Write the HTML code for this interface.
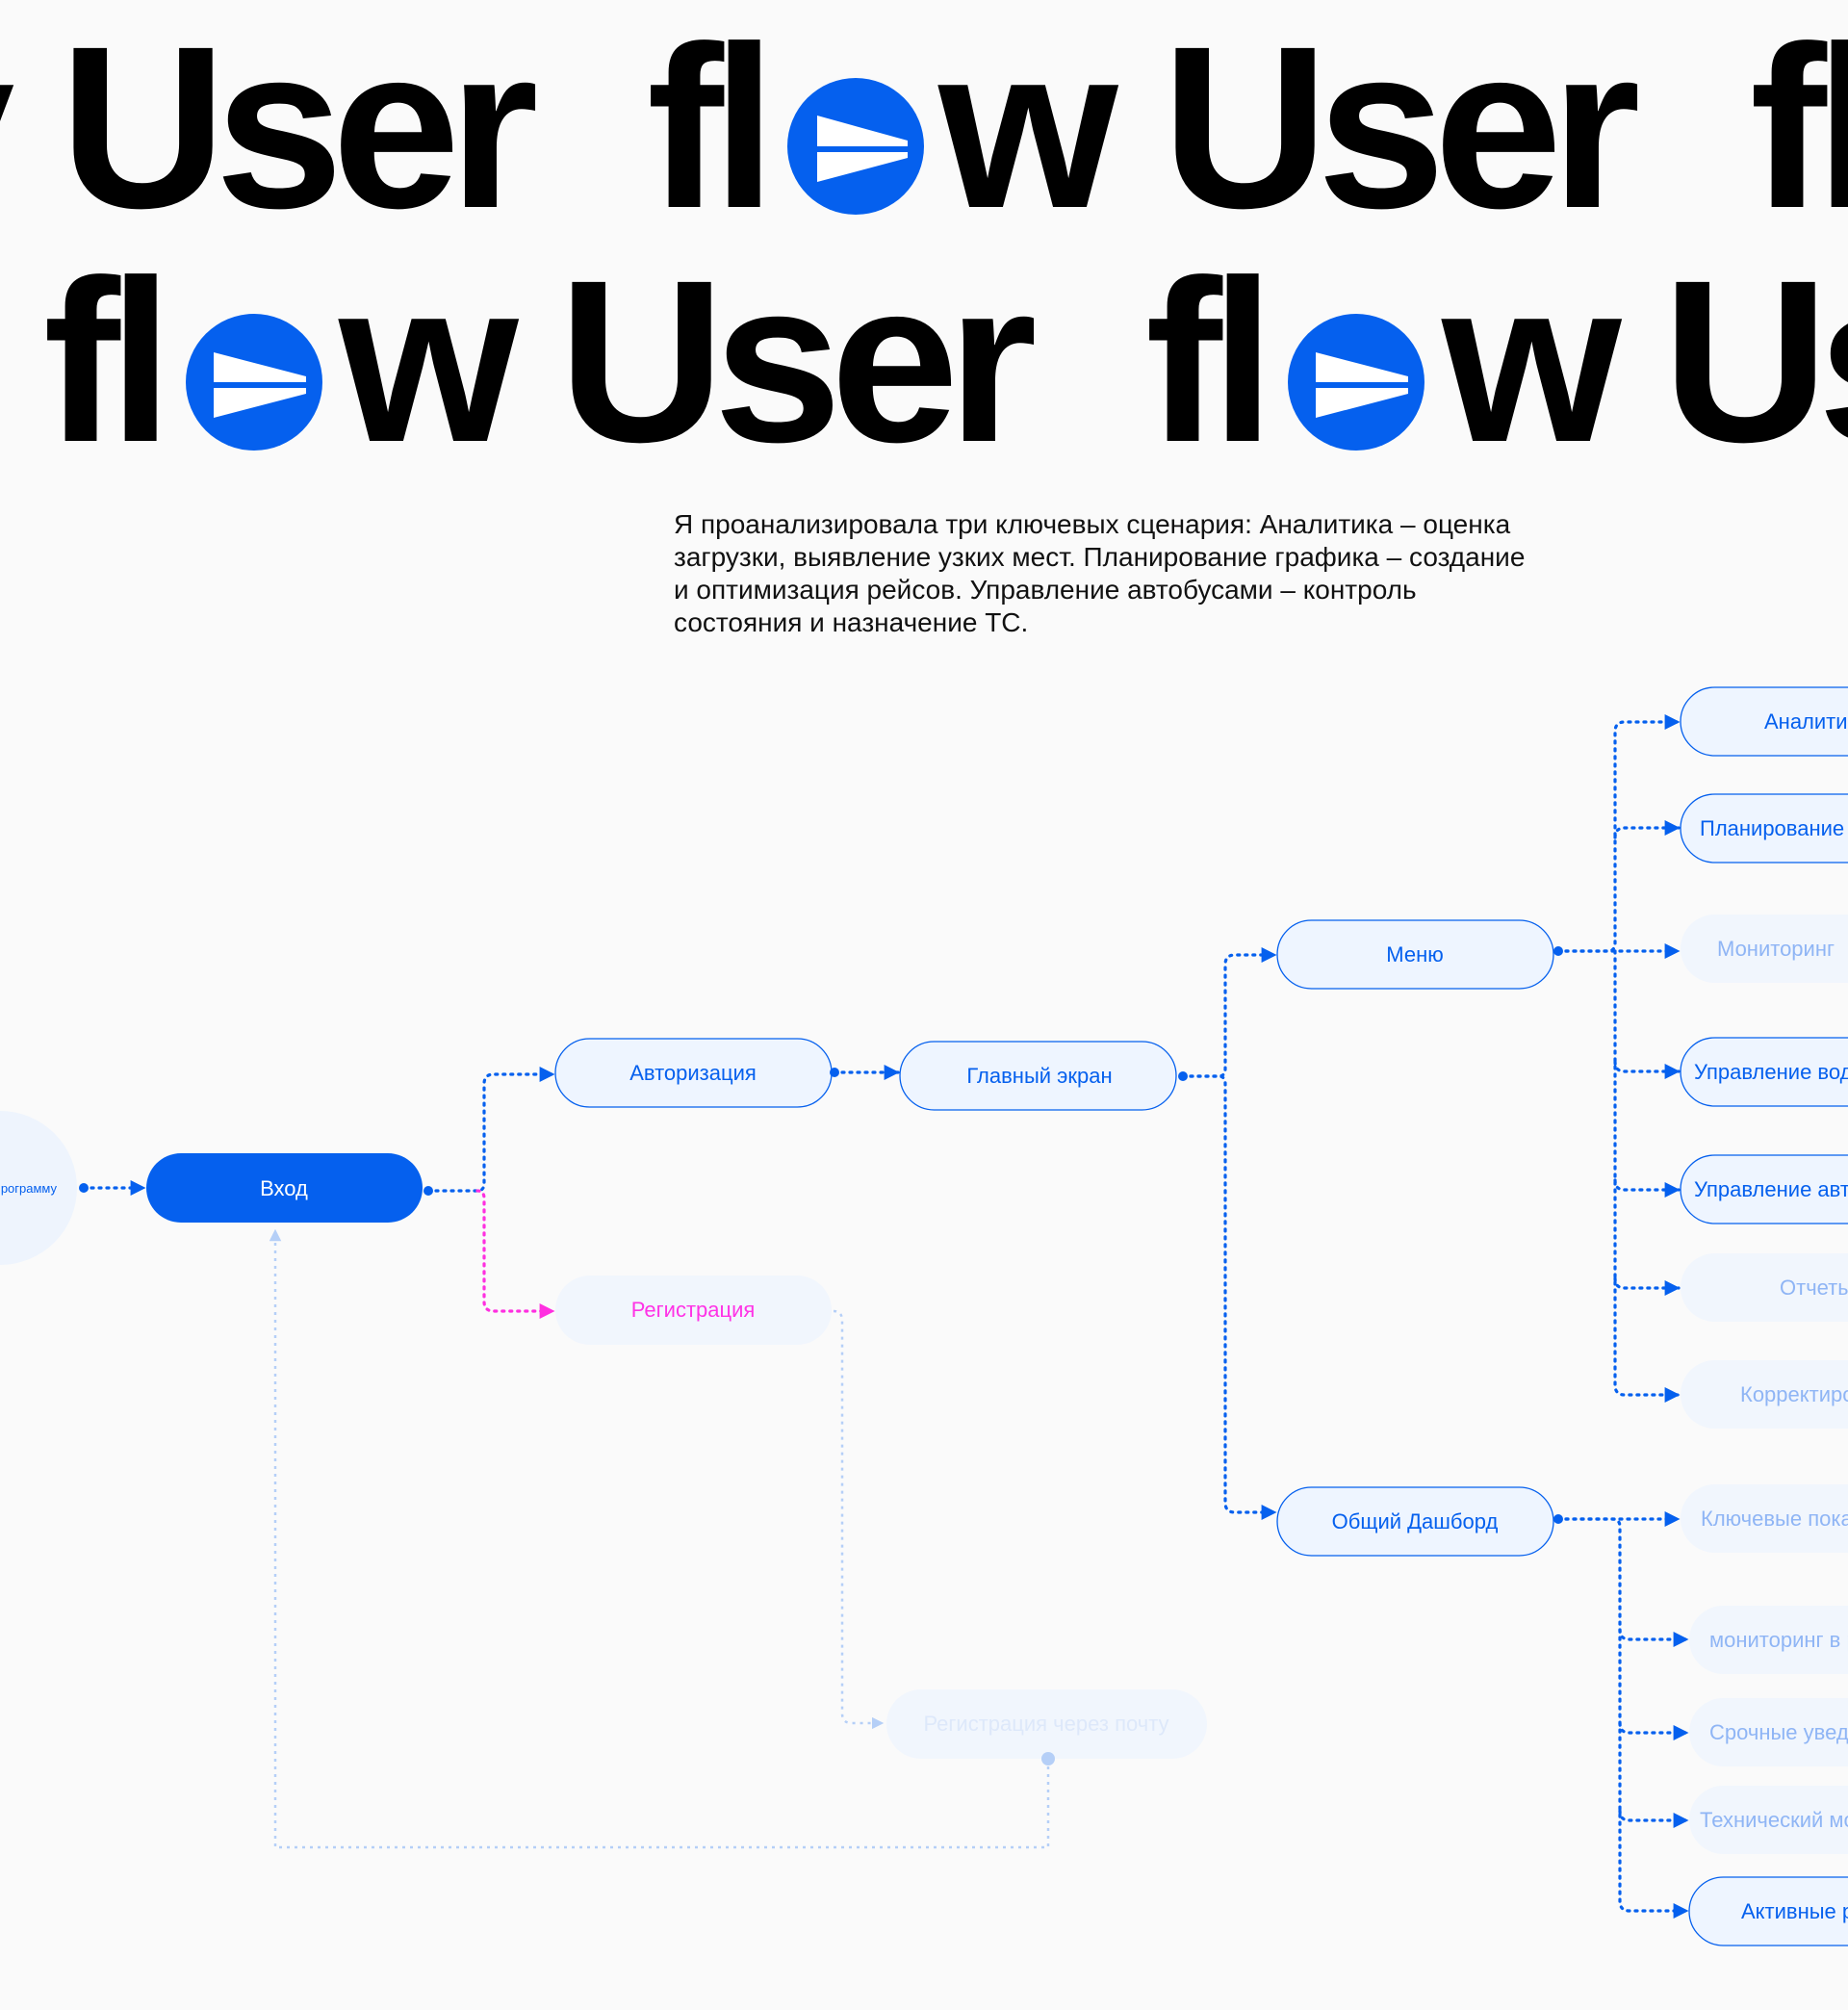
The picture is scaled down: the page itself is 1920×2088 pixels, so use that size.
<!DOCTYPE html>
<html><head><meta charset="utf-8"><style>
html,body{margin:0;padding:0;background:#fafafa;}
body{width:1920px;height:2088px;position:relative;overflow:hidden;font-family:"Liberation Sans",sans-serif;}
.w{position:absolute;font-weight:bold;font-size:240px;letter-spacing:-12px;line-height:1;color:#000;white-space:nowrap;}
.c{position:absolute;width:142px;height:142px;border-radius:50%;background:#0560ee;}
.p{position:absolute;left:700px;top:528px;font-size:28px;line-height:34px;color:#111;white-space:nowrap;letter-spacing:0;}
</style></head><body>
<div class="w" style="left:-118px;top:12px;">y</div>
<div class="w" style="left:62px;top:12px;">User</div>
<div class="w" style="left:672px;top:12px;">fl</div>
<div class="c" style="left:818px;top:81px;"></div>
<div class="w" style="left:975px;top:12px;">w</div>
<div class="w" style="left:1207px;top:12px;">User</div>
<div class="w" style="left:1818px;top:12px;">fl</div>
<div class="w" style="left:45px;top:255px;">fl</div>
<div class="c" style="left:193px;top:326px;"></div>
<div class="w" style="left:352px;top:255px;">w</div>
<div class="w" style="left:580px;top:255px;">User</div>
<div class="w" style="left:1190px;top:255px;">fl</div>
<div class="c" style="left:1338px;top:326px;"></div>
<div class="w" style="left:1498px;top:255px;">w</div>
<div class="w" style="left:1727px;top:255px;">Us</div>
<svg style="position:absolute;left:0;top:0" width="1920" height="500">
<g fill="#fff"><polygon points="849,120 943,146 943,152 849,152"/><polygon points="849,158 943,158 943,164 849,189"/>
<polygon points="222,366 318,391 318,397 222,397"/><polygon points="222,403 318,403 318,409 222,434"/>
<polygon points="1367,366 1463,391 1463,397 1367,397"/><polygon points="1367,403 1463,403 1463,409 1367,434"/></g>
</svg>
<div class="p">Я проанализировала три ключевых сценария: Аналитика – оценка<br>загрузки, выявление узких мест. Планирование графика – создание<br>и оптимизация рейсов. Управление автобусами – контроль<br>состояния и назначение ТС.</div>
<svg style="position:absolute;left:0;top:0" width="1920" height="2088" font-family="Liberation Sans, sans-serif">
<defs>
<marker id="a" viewBox="0 0 10 10" refX="9" refY="5" markerWidth="5" markerHeight="5" orient="auto"><path d="M0,0L10,5L0,10z" fill="#0560ee"/></marker>
<marker id="m" viewBox="0 0 10 10" refX="9" refY="5" markerWidth="5" markerHeight="5" orient="auto"><path d="M0,0L10,5L0,10z" fill="#ff2fe0"/></marker>
<marker id="f" viewBox="0 0 10 10" refX="9" refY="5" markerWidth="5" markerHeight="5" orient="auto"><path d="M0,0L10,5L0,10z" fill="#b5cff7"/></marker>
</defs>
<circle cx="0" cy="1234" r="80" fill="#eef4fd"/>
<text x="59" y="1239" font-size="13" fill="#0560ee" text-anchor="end">Войти в программу</text>
<rect x="152" y="1198" width="287" height="72" rx="36" fill="#0560ee"/>
<text x="295" y="1242" font-size="22" fill="#fff" text-anchor="middle">Вход</text>
<g fill="#eef5ff" stroke="#0560ee" stroke-width="1.3">
<rect x="577" y="1079" width="287" height="71" rx="35.5"/>
<rect x="935" y="1082" width="287" height="71" rx="35.5"/>
<rect x="1327" y="956" width="287" height="71" rx="35.5"/>
<rect x="1327" y="1545" width="287" height="71" rx="35.5"/>
<rect x="1746" y="714" width="300" height="71" rx="35.5"/>
<rect x="1746" y="825" width="300" height="71" rx="35.5"/>
<rect x="1746" y="1078" width="300" height="71" rx="35.5"/>
<rect x="1746" y="1200" width="300" height="71" rx="35.5"/>
<rect x="1755" y="1950" width="300" height="71" rx="35.5"/>
</g>
<g fill="#f1f6fd">
<rect x="577" y="1325" width="287" height="72" rx="36"/>
<rect x="921" y="1755" width="333" height="72" rx="36"/>
<rect x="1746" y="950" width="300" height="71" rx="35.5"/>
<rect x="1746" y="1302" width="300" height="71" rx="35.5"/>
<rect x="1746" y="1413" width="300" height="71" rx="35.5"/>
<rect x="1746" y="1542" width="300" height="71" rx="35.5"/>
<rect x="1755" y="1668" width="300" height="71" rx="35.5"/>
<rect x="1755" y="1764" width="300" height="71" rx="35.5"/>
<rect x="1755" y="1855" width="300" height="71" rx="35.5"/>
</g>
<g font-size="22" text-anchor="middle" fill="#0560ee">
<text x="720" y="1122">Авторизация</text>
<text x="1080" y="1125">Главный экран</text>
<text x="1470" y="999">Меню</text>
<text x="1470" y="1588">Общий Дашборд</text>
<text x="720" y="1368" fill="#ff33e6">Регистрация</text>
<text x="1087" y="1798" fill="#dde8fa">Регистрация через почту</text>
</g>
<g font-size="22" fill="#0560ee">
<text x="1833" y="757">Аналитика</text>
<text x="1766" y="868">Планирование графика</text>
<text x="1760" y="1121">Управление водителями</text>
<text x="1760" y="1243">Управление автобусами</text>
<text x="1809" y="1993">Активные рейсы</text>
<g fill="#8fb5f5">
<text x="1784" y="993">Мониторинг</text>
<text x="1849" y="1345">Отчеты</text>
<text x="1808" y="1456">Корректировка</text>
<text x="1767" y="1585">Ключевые показатели</text>
<text x="1776" y="1711">мониторинг в реальном</text>
<text x="1776" y="1807">Срочные уведомления</text>
<text x="1766" y="1898">Технический мониторинг</text>
</g>
</g>
<g fill="none" stroke="#0560ee" stroke-width="3.2" stroke-dasharray="2 6" stroke-linecap="round" marker-end="url(#a)">
<path d="M87,1234H150"/>
<path d="M445,1237H496q7,0 7,-8V1126q0,-10 10,-10H575"/>
<path d="M867,1114H933"/>
<path d="M1229,1118H1266q7,0 7,-8V1002q0,-10 10,-10H1325"/>
<path d="M1229,1118H1266q7,0 7,8V1561q0,10 10,10H1325"/>
<path d="M1619,988H1744"/>
<path d="M1619,988H1670q8,0 8,-8V760q0,-10 10,-10H1744"/>
<path d="M1678,870q0,-10 10,-10H1744"/>
<path d="M1678,988V1439q0,10 10,10H1744"/>
<path d="M1678,1103q0,10 10,10H1744"/>
<path d="M1678,1226q0,10 10,10H1744"/>
<path d="M1678,1328q0,10 10,10H1744"/>
<path d="M1619,1578H1744"/>
<path d="M1619,1578H1675q8,0 8,8V1975q0,10 10,10H1753"/>
<path d="M1683,1693q0,10 10,10H1753"/>
<path d="M1683,1790q0,10 10,10H1753"/>
<path d="M1683,1881q0,10 10,10H1753"/>
</g>
<g fill="#0560ee"><circle cx="87" cy="1234" r="5"/><circle cx="445" cy="1237" r="5"/><circle cx="867" cy="1114" r="5"/><circle cx="1229" cy="1118" r="5"/><circle cx="1619" cy="988" r="5"/><circle cx="1619" cy="1578" r="5"/></g>
<path d="M496,1237q7,0 7,8V1352q0,10 10,10H575" fill="none" stroke="#ff2fe0" stroke-width="3.2" stroke-dasharray="2 6" stroke-linecap="round" marker-end="url(#m)"/>
<g fill="none" stroke="#b5cff7" stroke-width="2.5" stroke-dasharray="3 5" marker-end="url(#f)">
<path d="M866,1362q9,0 9,10V1780q0,10 10,10H917"/>
<path d="M1089,1827V1919H286V1278"/>
</g>
<circle cx="1089" cy="1827" r="7" fill="#b5cff7"/>
</svg>
</body></html>
